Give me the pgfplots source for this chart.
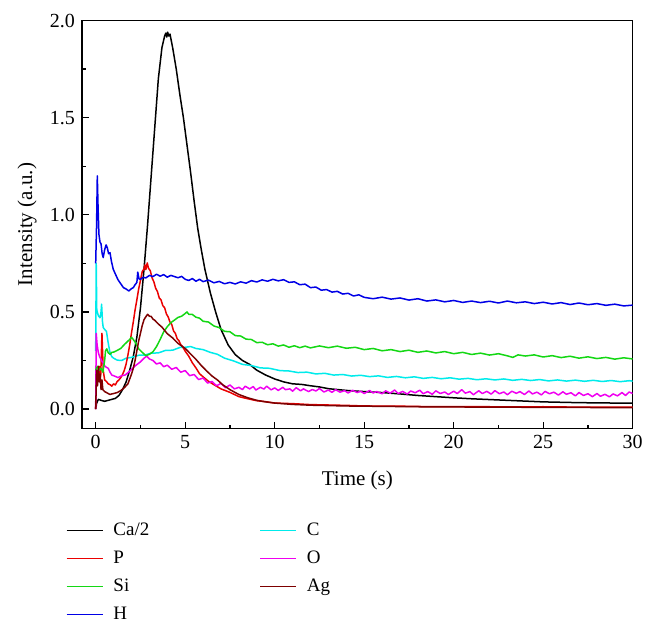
\documentclass[border=0pt]{standalone}
\usepackage{fontspec}
\setmainfont{Liberation Serif}
\usepackage{pgfplots}
\pgfplotsset{compat=1.18}
\definecolor{cGreen}{RGB}{20,215,20}
\definecolor{cBlue}{RGB}{0,0,230}
\definecolor{cCyan}{RGB}{0,235,235}
\definecolor{cMag}{RGB}{240,0,240}
\definecolor{cRed}{RGB}{235,0,0}
\definecolor{cAg}{RGB}{125,0,0}
\begin{document}
\begin{tikzpicture}
\useasboundingbox (0,0) rectangle (328.5pt,316pt);
\begin{axis}[
  at={(41pt,101.75pt)}, anchor=south west,
  scale only axis, width=275.35pt, height=204pt,
  xmin=-0.765, xmax=30, ymin=-0.1, ymax=2.0,
  xtick={0,5,...,30}, ytick={0,0.5,...,2},
  minor x tick num=1, minor y tick num=1,
  tick pos=left, tick align=inside,
  major tick length=3.5pt, minor tick length=2pt,
  every tick/.style={black, line width=0.6pt},
  axis line style={line width=0.7pt},
  yticklabel style={/pgf/number format/.cd, fixed, fixed zerofill, precision=1},
  /pgf/number format/assume math mode=true,
  tick label style={font=\fontsize{10}{12}\selectfont},
  label style={font=\fontsize{10.5}{12}\selectfont},
  xlabel={Time (s)}, ylabel={Intensity (a.u.)},
  xlabel style={at={(axis description cs:0.5,-0.128)}, anchor=center},
  ylabel style={at={(axis description cs:-0.0998,0.5)}, anchor=center},
  legend columns=2,
  legend image code/.code={\draw[#1, line width=0.8pt] (0pt,0pt) -- (18pt,0pt);},
  legend style={at={(axis description cs:-0.03,-0.222)}, anchor=north west,
    draw=none, fill=none, inner sep=0pt, row sep=3pt,
    font=\fontsize{9.5}{12}\selectfont,
    nodes={inner sep=1pt, text height=7pt, text depth=2pt},
    /tikz/every odd column/.append style={column sep=4pt},
    /tikz/every even column/.append style={column sep=54pt}},
  legend cell align=left,
  every axis plot/.append style={line width=0.75pt, line join=round},
]
% Ca/2
\addplot[black] coordinates {(0,0) (0.05,0.03) (0.15,0.05) (0.3,0.045) (0.5,0.04) (0.7,0.045) (0.9,0.05) (1.1,0.055) (1.3,0.07) (1.5,0.1) (1.7,0.14) (1.9,0.2) (2.1,0.27) (2.3,0.37) (2.5,0.52) (2.7,0.72) (2.9,0.95) (3.1,1.2) (3.3,1.45) (3.5,1.7) (3.7,1.86) (3.85,1.92) (3.92,1.935) (3.97,1.915) (4.02,1.94) (4.08,1.92) (4.15,1.93) (4.3,1.86) (4.5,1.75) (4.7,1.62) (4.9,1.5) (5.1,1.36) (5.3,1.22) (5.5,1.07) (5.7,0.93) (5.9,0.82) (6.1,0.72) (6.4,0.6) (6.7,0.5) (7.0,0.41) (7.4,0.33) (7.8,0.28) (8.2,0.25) (8.6,0.23) (9.0,0.2) (9.5,0.175) (10,0.155) (10.5,0.14) (11,0.13) (11.5,0.127) (12,0.12) (12.5,0.114) (13,0.105) (14,0.096) (15,0.09) (16,0.085) (17,0.078) (18,0.07) (19,0.064) (20,0.058) (21,0.053) (22,0.049) (23,0.045) (24,0.041) (25,0.037) (26,0.035) (27,0.033) (28,0.032) (29,0.031) (30,0.03)};
\addlegendentry{Ca/2}
% C
\addplot[cCyan] coordinates {(0,0.3) (0.03,0.75) (0.06,0.51) (0.15,0.48) (0.24,0.47) (0.3,0.5) (0.33,0.54) (0.38,0.45) (0.42,0.42) (0.5,0.41) (0.6,0.4) (0.7,0.34) (0.8,0.29) (0.9,0.27) (1.0,0.262) (1.2,0.252) (1.45,0.25) (1.7,0.262) (2.0,0.266) (2.4,0.277) (2.75,0.278) (3.1,0.288) (3.5,0.289) (3.9,0.302) (4.3,0.303) (4.7,0.317) (5.0,0.318) (5.3,0.322) (5.6,0.312) (6.0,0.306) (6.4,0.292) (6.8,0.282) (7.2,0.262) (7.7,0.248) (8.2,0.23) (8.7,0.224) (9.2,0.212) (9.7,0.21) (10.3,0.198) (10.8,0.196) (11.3,0.188) (11.8,0.19) (12.3,0.181) (12.8,0.184) (13.3,0.175) (13.8,0.178) (14.3,0.17) (14.8,0.174) (15.3,0.167) (15.8,0.171) (16.3,0.163) (16.8,0.168) (17.3,0.161) (17.8,0.166) (18.3,0.158) (18.8,0.163) (19.3,0.156) (19.8,0.161) (20.3,0.154) (20.8,0.158) (21.3,0.151) (21.8,0.156) (22.3,0.15) (22.8,0.155) (23.3,0.148) (23.8,0.153) (24.3,0.147) (24.8,0.152) (25.3,0.145) (25.8,0.15) (26.3,0.144) (26.8,0.149) (27.3,0.143) (27.8,0.148) (28.3,0.142) (28.8,0.147) (29.3,0.141) (29.8,0.146) (30,0.144)};
\addlegendentry{C}
% P
\addplot[cRed] coordinates {(0,0) (0.05,0.2) (0.12,0.15) (0.2,0.22) (0.28,0.17) (0.35,0.39) (0.42,0.2) (0.5,0.15) (0.6,0.142) (0.7,0.13) (0.8,0.126) (0.9,0.118) (1.0,0.13) (1.1,0.124) (1.2,0.142) (1.3,0.15) (1.4,0.162) (1.5,0.178) (1.6,0.2) (1.7,0.232) (1.8,0.278) (1.9,0.33) (2.0,0.392) (2.1,0.448) (2.2,0.51) (2.3,0.562) (2.4,0.618) (2.5,0.662) (2.6,0.708) (2.7,0.722) (2.75,0.742) (2.8,0.718) (2.88,0.752) (2.95,0.725) (3.05,0.712) (3.15,0.675) (3.25,0.655) (3.35,0.622) (3.45,0.605) (3.55,0.572) (3.65,0.562) (3.75,0.532) (3.85,0.522) (3.95,0.49) (4.05,0.474) (4.15,0.448) (4.25,0.435) (4.35,0.402) (4.45,0.39) (4.55,0.362) (4.65,0.352) (4.75,0.332) (4.85,0.322) (5.0,0.298) (5.2,0.272) (5.4,0.238) (5.6,0.212) (5.8,0.182) (6.0,0.166) (6.3,0.143) (6.6,0.126) (7.0,0.104) (7.5,0.086) (8.0,0.064) (8.5,0.053) (9.0,0.043) (9.5,0.038) (10,0.031) (11,0.028) (12,0.023) (13,0.021) (14,0.019) (15,0.016) (17,0.015) (19,0.012) (21,0.013) (23,0.011) (25,0.012) (27,0.01) (30,0.01)};
\addlegendentry{P}
% O
\addplot[cMag] coordinates {(0,0) (0.03,0.39) (0.08,0.33) (0.15,0.29) (0.22,0.27) (0.33,0.25) (0.42,0.235) (0.52,0.22) (0.6,0.215) (0.7,0.21) (0.8,0.19) (0.9,0.175) (1.05,0.17) (1.25,0.162) (1.45,0.172) (1.64,0.175) (1.9,0.195) (2.2,0.222) (2.5,0.243) (2.7,0.262) (2.85,0.272) (3.0,0.258) (3.2,0.25) (3.4,0.232) (3.6,0.238) (3.8,0.218) (4.0,0.226) (4.25,0.205) (4.5,0.214) (4.75,0.19) (5.0,0.198) (5.25,0.172) (5.5,0.178) (5.75,0.152) (6.0,0.16) (6.25,0.134) (6.5,0.142) (6.75,0.12) (7.0,0.132) (7.25,0.11) (7.5,0.124) (7.75,0.104) (8.0,0.112) (8.2,0.1) (8.35,0.118) (8.6,0.104) (8.8,0.116) (8.95,0.098) (9.2,0.112) (9.4,0.103) (9.55,0.118) (9.8,0.099) (10.0,0.109) (10.2,0.096) (10.45,0.112) (10.6,0.1) (10.85,0.104) (11.0,0.092) (11.2,0.11) (11.45,0.094) (11.6,0.104) (11.9,0.09) (12.1,0.101) (12.3,0.093) (12.5,0.106) (12.75,0.088) (13.0,0.098) (13.2,0.086) (13.4,0.1) (13.65,0.087) (13.9,0.095) (14.1,0.083) (14.35,0.097) (14.6,0.085) (14.8,0.092) (15.0,0.08) (15.3,0.096) (15.5,0.083) (15.7,0.09) (16.0,0.079) (16.2,0.094) (16.45,0.082) (16.7,0.098) (16.9,0.08) (17.15,0.091) (17.4,0.077) (17.6,0.093) (17.85,0.084) (18.1,0.097) (18.3,0.079) (18.55,0.09) (18.8,0.076) (19.0,0.094) (19.25,0.08) (19.5,0.088) (19.7,0.075) (20.0,0.092) (20.2,0.08) (20.45,0.1) (20.65,0.082) (20.9,0.09) (21.1,0.074) (21.4,0.094) (21.6,0.08) (21.85,0.091) (22.1,0.077) (22.3,0.095) (22.55,0.079) (22.8,0.088) (23.0,0.074) (23.25,0.092) (23.5,0.081) (23.7,0.09) (23.95,0.075) (24.2,0.093) (24.4,0.078) (24.65,0.087) (24.9,0.073) (25.1,0.091) (25.35,0.079) (25.6,0.087) (25.85,0.072) (26.1,0.089) (26.3,0.076) (26.55,0.084) (26.8,0.068) (27.0,0.085) (27.25,0.07) (27.5,0.079) (27.75,0.064) (28.0,0.08) (28.2,0.066) (28.45,0.076) (28.7,0.063) (28.9,0.078) (29.15,0.068) (29.4,0.085) (29.6,0.07) (29.8,0.088) (30.0,0.08)};
\addlegendentry{O}
% Si
\addplot[cGreen] coordinates {(0,0.2) (0.1,0.22) (0.2,0.2) (0.3,0.21) (0.4,0.19) (0.5,0.25) (0.55,0.3) (0.62,0.31) (0.7,0.29) (0.8,0.282) (0.9,0.292) (1.0,0.293) (1.2,0.302) (1.4,0.312) (1.6,0.332) (1.8,0.35) (1.9,0.358) (2.0,0.37) (2.1,0.358) (2.2,0.345) (2.4,0.31) (2.6,0.292) (2.8,0.275) (3.0,0.282) (3.2,0.295) (3.4,0.322) (3.6,0.358) (3.8,0.398) (4.0,0.424) (4.2,0.445) (4.4,0.458) (4.6,0.472) (4.8,0.478) (5.0,0.492) (5.1,0.5) (5.2,0.488) (5.4,0.487) (5.6,0.473) (5.8,0.468) (6.0,0.452) (6.3,0.448) (6.6,0.428) (6.9,0.419) (7.2,0.4) (7.5,0.398) (7.8,0.378) (8.1,0.376) (8.4,0.36) (8.7,0.358) (9.0,0.342) (9.3,0.344) (9.6,0.331) (9.9,0.336) (10.2,0.324) (10.5,0.33) (10.8,0.318) (11.1,0.326) (11.4,0.316) (11.7,0.324) (12.0,0.315) (12.5,0.325) (13.0,0.316) (13.5,0.324) (14.0,0.313) (14.5,0.318) (15.0,0.306) (15.5,0.312) (16.0,0.3) (16.5,0.306) (17.0,0.296) (17.5,0.303) (18.0,0.292) (18.5,0.299) (19.0,0.289) (19.5,0.296) (20.0,0.285) (20.5,0.292) (21.0,0.281) (21.5,0.288) (22.0,0.278) (22.5,0.285) (23.0,0.274) (23.3,0.266) (23.6,0.279) (24.0,0.273) (24.5,0.279) (25.0,0.268) (25.5,0.275) (26.0,0.265) (26.5,0.272) (27.0,0.262) (27.5,0.269) (28.0,0.26) (28.5,0.266) (29.0,0.257) (29.5,0.264) (30.0,0.258)};
\addlegendentry{Si}
% Ag
\addplot[cAg] coordinates {(0,0) (0.05,0.2) (0.1,0.12) (0.15,0.22) (0.2,0.14) (0.25,0.18) (0.3,0.1) (0.35,0.15) (0.4,0.1) (0.5,0.09) (0.6,0.085) (0.7,0.08) (0.8,0.075) (0.9,0.078) (1.0,0.08) (1.2,0.085) (1.4,0.095) (1.6,0.11) (1.8,0.13) (2.0,0.18) (2.1,0.21) (2.2,0.25) (2.3,0.3) (2.4,0.35) (2.5,0.39) (2.6,0.43) (2.7,0.46) (2.8,0.475) (2.9,0.488) (3.0,0.478) (3.1,0.477) (3.2,0.463) (3.3,0.457) (3.5,0.438) (3.7,0.422) (4.0,0.388) (4.3,0.366) (4.6,0.338) (5.0,0.312) (5.3,0.284) (5.6,0.256) (5.9,0.224) (6.2,0.196) (6.5,0.17) (6.8,0.15) (7.1,0.125) (7.5,0.1) (8.0,0.075) (8.5,0.058) (9.0,0.045) (9.5,0.037) (10,0.031) (11,0.024) (12,0.02) (13,0.018) (14,0.016) (16,0.014) (18,0.012) (20,0.011) (22,0.01) (25,0.009) (28,0.008) (30,0.008)};
\addlegendentry{Ag}
% H
\addplot[cBlue] coordinates {(0,0.75) (0.05,0.95) (0.09,1.2) (0.13,1.05) (0.18,0.9) (0.24,0.86) (0.3,0.85) (0.36,0.8) (0.42,0.78) (0.5,0.82) (0.58,0.845) (0.65,0.83) (0.72,0.8) (0.8,0.805) (0.88,0.76) (0.98,0.72) (1.1,0.695) (1.25,0.665) (1.4,0.645) (1.55,0.625) (1.7,0.618) (1.85,0.608) (2.0,0.62) (2.1,0.625) (2.2,0.64) (2.3,0.652) (2.35,0.705) (2.42,0.67) (2.5,0.668) (2.65,0.678) (2.8,0.675) (3.0,0.688) (3.2,0.682) (3.4,0.694) (3.6,0.684) (3.8,0.692) (4.0,0.679) (4.2,0.688) (4.4,0.682) (4.6,0.676) (4.8,0.683) (5.0,0.668) (5.2,0.662) (5.4,0.672) (5.6,0.658) (5.8,0.668) (6.0,0.656) (6.3,0.664) (6.6,0.65) (6.9,0.657) (7.2,0.645) (7.5,0.652) (7.8,0.644) (8.1,0.655) (8.4,0.648) (8.7,0.661) (9.0,0.654) (9.3,0.665) (9.6,0.658) (9.9,0.668) (10.2,0.66) (10.5,0.666) (10.8,0.652) (11.1,0.655) (11.4,0.64) (11.7,0.643) (12.0,0.625) (12.3,0.628) (12.6,0.612) (12.9,0.615) (13.2,0.602) (13.5,0.606) (13.8,0.592) (14.1,0.596) (14.4,0.582) (14.7,0.588) (15.0,0.575) (15.5,0.568) (16.0,0.576) (16.5,0.566) (17.0,0.572) (17.5,0.561) (18.0,0.568) (18.5,0.556) (19.0,0.562) (19.5,0.552) (20.0,0.559) (20.5,0.549) (21.0,0.556) (21.5,0.548) (22.0,0.555) (22.5,0.546) (23.0,0.556) (23.5,0.547) (24.0,0.552) (24.5,0.543) (25.0,0.55) (25.5,0.541) (26.0,0.548) (26.5,0.538) (27.0,0.546) (27.5,0.537) (28.0,0.543) (28.5,0.534) (29.0,0.54) (29.5,0.531) (30.0,0.535)};
\addlegendentry{H}
\end{axis}
\end{tikzpicture}
\end{document}
